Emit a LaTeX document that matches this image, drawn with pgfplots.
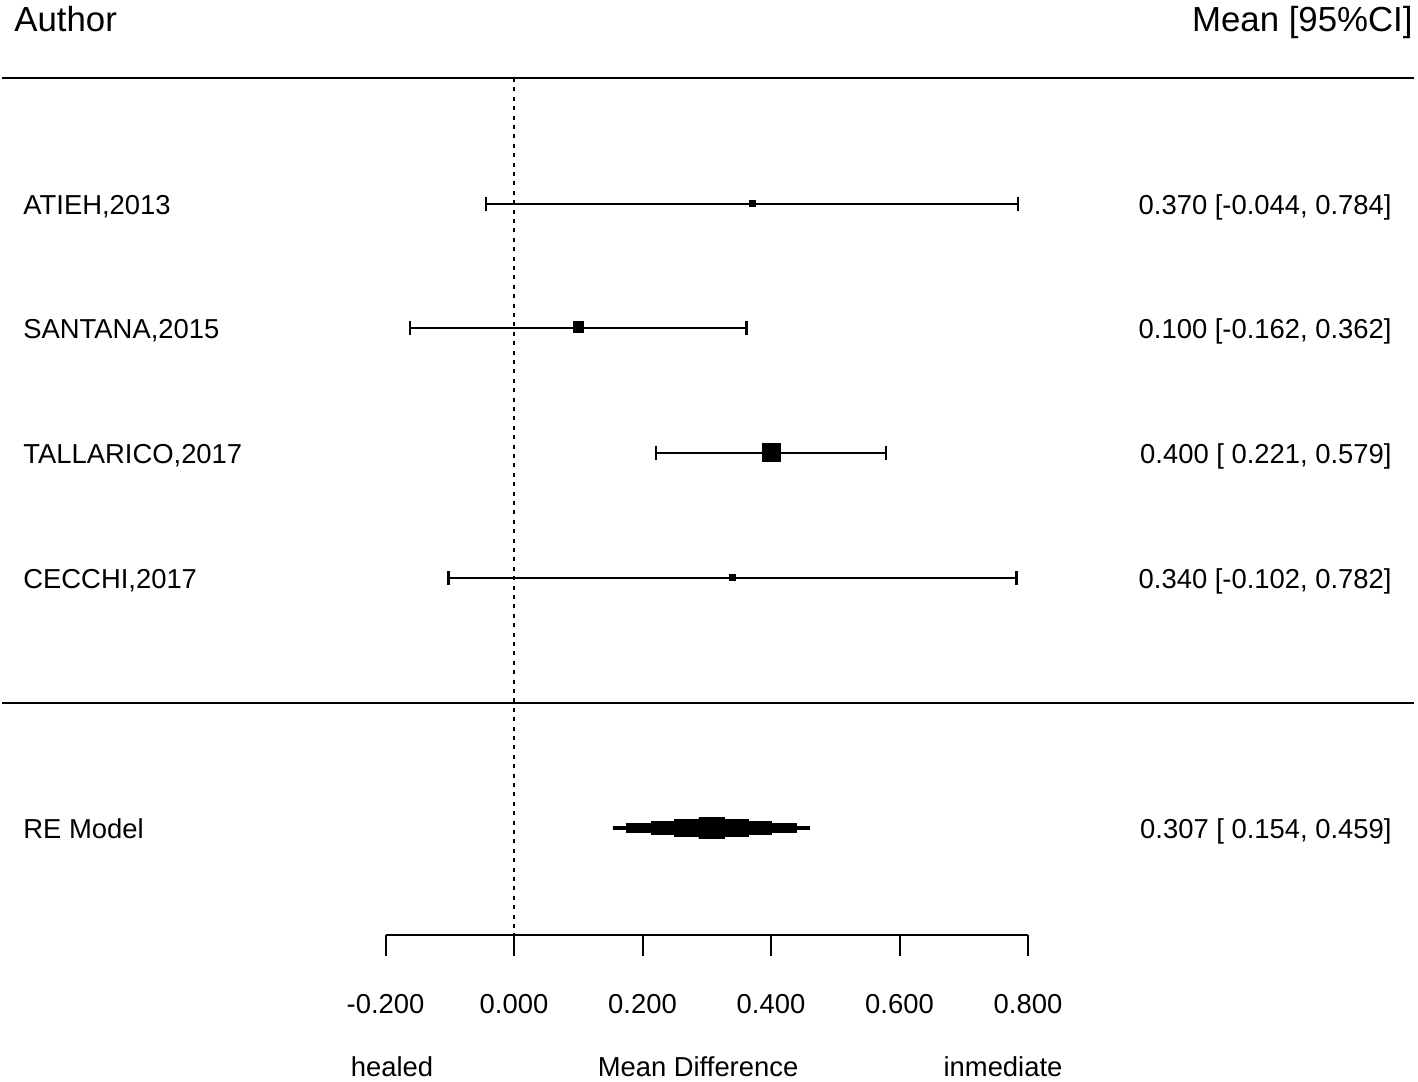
\documentclass[border=0pt]{standalone}
\usepackage{pgfplots}
\pgfplotsset{compat=1.18}
\usepackage{fontspec}
\setmainfont{Liberation Sans}
\newcommand{\fs}{\fontsize{13.7}{16}\selectfont}
\newcommand{\fh}{\fontsize{17.4}{20}\selectfont}
\begin{document}
\begin{tikzpicture}
\begin{axis}[
  width=709pt, height=540.5pt, scale only axis,
  hide axis, clip=false,
  xmin=-0.80000, xmax=1.40700,
  ymin=0, ymax=1081, y dir=reverse,
  unbounded coords=jump,
]
% separators
\addplot[black, line width=1pt] coordinates {(-0.7969,78) (1.4008,78)};
\addplot[black, line width=1pt] coordinates {(-0.7969,703) (1.4008,703)};
% zero line
\addplot[black, line width=1pt, dash pattern=on 2pt off 2.7pt] coordinates {(0,78) (0,935)};
% bottom axis
\addplot[black, line width=1pt] coordinates {
 (-0.2,935) (0.8,935) (nan,nan)
 (-0.2,935) (-0.2,956) (nan,nan)
 (0,935) (0,956) (nan,nan)
 (0.2,935) (0.2,956) (nan,nan)
 (0.4,935) (0.4,956) (nan,nan)
 (0.6,935) (0.6,956) (nan,nan)
 (0.8,935) (0.8,956)};
% CIs
\addplot[black, line width=1.1pt] coordinates {
 (-0.044,204) (0.784,204) (nan,nan)
 (-0.162,328) (0.362,328) (nan,nan)
 (0.221,453) (0.579,453) (nan,nan)
 (-0.102,578) (0.782,578)};
\addplot[black, only marks, mark=|, mark size=3.6pt, mark options={line width=1.1pt}] coordinates {
 (-0.044,204) (0.784,204)
 (-0.162,328) (0.362,328)
 (0.221,453) (0.579,453)
 (-0.102,578) (0.782,578)};
% point estimates
\addplot[black, only marks, mark=square*, mark size=1.5pt, mark options={fill=black, line width=0.2pt}] coordinates {(0.370,203)};
\addplot[black, only marks, mark=square*, mark size=2.7pt, mark options={fill=black, line width=0.2pt}] coordinates {(0.100,327)};
\addplot[black, only marks, mark=square*, mark size=4.4pt, mark options={fill=black, line width=0.2pt}] coordinates {(0.400,452)};
\addplot[black, only marks, mark=square*, mark size=1.5pt, mark options={fill=black, line width=0.2pt}] coordinates {(0.340,577)};
% summary diamond (stepped, as rendered in the reference)
\addplot[black, fill=black, line width=0.2pt] coordinates {
 (0.154,826.5) (0.1747,826.5) (0.1747,823.5) (0.2136,823.5) (0.2136,821.5) (0.2494,821.5) (0.2494,819.5) (0.2875,819.5) (0.2875,817.5)
 (0.3265,817.5) (0.3265,819.5) (0.3646,819.5) (0.3646,821.5) (0.4004,821.5) (0.4004,823.5) (0.4393,823.5) (0.4393,826.5) (0.459,826.5)
 (0.459,829.5) (0.4393,829.5) (0.4393,832.5) (0.4004,832.5) (0.4004,834.5) (0.3646,834.5) (0.3646,836.5) (0.3265,836.5) (0.3265,838.5)
 (0.2875,838.5) (0.2875,836.5) (0.2494,836.5) (0.2494,834.5) (0.2136,834.5) (0.2136,832.5) (0.1747,832.5) (0.1747,829.5) (0.154,829.5)
} -- cycle;
% headers
\node[anchor=base west, inner sep=0pt] at (axis cs:-0.7782,32) {\fh Author};
\node[anchor=base east, inner sep=0pt] at (axis cs:1.3992,32) {\fh Mean [95\%CI]};
% study labels
\node[anchor=base west, inner sep=0pt] at (axis cs:-0.7642,214) {\fs ATIEH,2013};
\node[anchor=base west, inner sep=0pt] at (axis cs:-0.7642,338) {\fs SANTANA,2015};
\node[anchor=base west, inner sep=0pt] at (axis cs:-0.7642,463) {\fs TALLARICO,2017};
\node[anchor=base west, inner sep=0pt] at (axis cs:-0.7642,588) {\fs CECCHI,2017};
\node[anchor=base west, inner sep=0pt] at (axis cs:-0.7642,838) {\fs RE Model};
% values
\node[anchor=base east, inner sep=0pt] at (axis cs:1.3665,214) {\fs 0.370 [-0.044, 0.784]};
\node[anchor=base east, inner sep=0pt] at (axis cs:1.3665,338) {\fs 0.100 [-0.162, 0.362]};
\node[anchor=base east, inner sep=0pt] at (axis cs:1.3665,463) {\fs 0.400 [ 0.221, 0.579]};
\node[anchor=base east, inner sep=0pt] at (axis cs:1.3665,588) {\fs 0.340 [-0.102, 0.782]};
\node[anchor=base east, inner sep=0pt] at (axis cs:1.3665,838) {\fs 0.307 [ 0.154, 0.459]};
% tick labels
\node[anchor=base, inner sep=0pt] at (axis cs:-0.2,1013) {\fs -0.200};
\node[anchor=base, inner sep=0pt] at (axis cs:0,1013) {\fs 0.000};
\node[anchor=base, inner sep=0pt] at (axis cs:0.2,1013) {\fs 0.200};
\node[anchor=base, inner sep=0pt] at (axis cs:0.4,1013) {\fs 0.400};
\node[anchor=base, inner sep=0pt] at (axis cs:0.6,1013) {\fs 0.600};
\node[anchor=base, inner sep=0pt] at (axis cs:0.8,1013) {\fs 0.800};
% axis captions
\node[anchor=base, inner sep=0pt] at (axis cs:-0.1899,1076) {\fs healed};
\node[anchor=base, inner sep=0pt] at (axis cs:0.2864,1076) {\fs Mean Difference};
\node[anchor=base, inner sep=0pt] at (axis cs:0.7611,1076) {\fs inmediate};
\end{axis}
\pgfresetboundingbox
\path[use as bounding box] (current axis.south west) rectangle (current axis.north east);
\end{tikzpicture}
\end{document}
